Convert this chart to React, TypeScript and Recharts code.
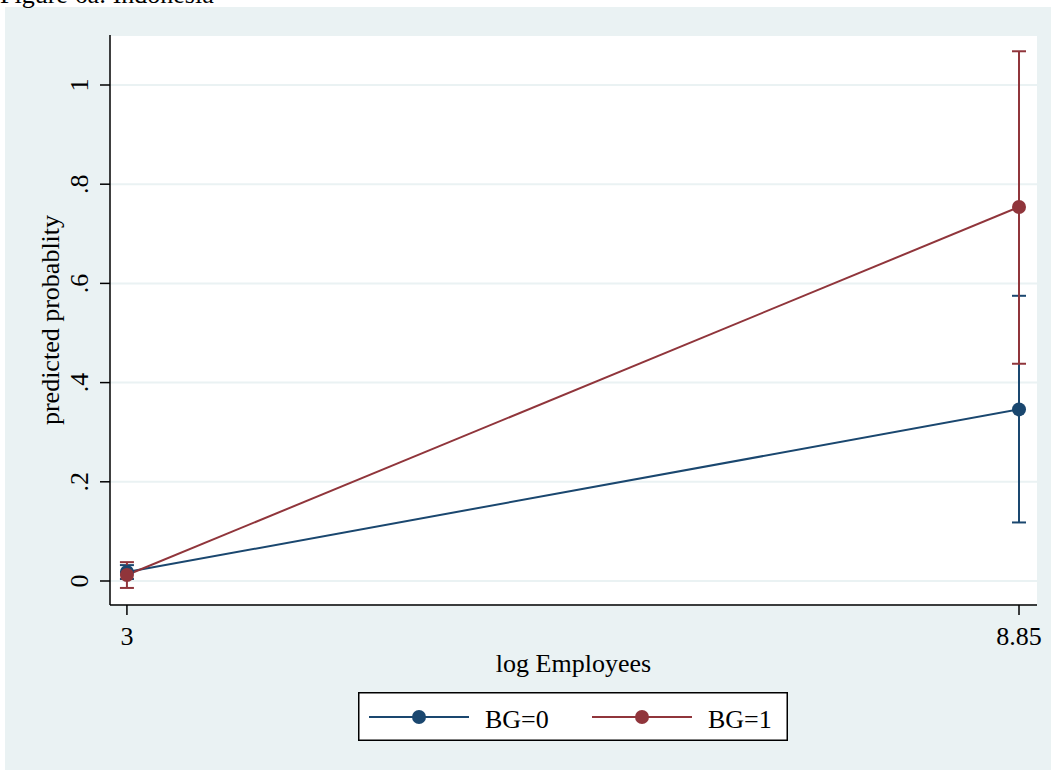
import React from "react";
import { LineChart, Line, XAxis, YAxis, CartesianGrid, ErrorBar, Legend } from "recharts";

// values
const employees = [3, 8.85];
const bg0Prob = [0.018, 0.346];
const bg0Low = [0.004, 0.118];
const bg0High = [0.032, 0.575];
const bg1Prob = [0.012, 0.754];
const bg1Low = [-0.014, 0.438];
const bg1High = [0.038, 1.068];

const yTicks = [0, 0.2, 0.4, 0.6, 0.8, 1];
const yTickLabels = ["0", ".2", ".4", ".6", ".8", "1"];
const xTicks = [3, 8.85];
const xTickLabels = ["3", "8.85"];

const NAVY = "#1a476f";
const MAROON = "#90353b";
const BG = "#eaf2f3";
const FONT = "'Liberation Serif', 'Times New Roman', serif";

const data = employees.map((x, i) => ({
  x,
  p0: bg0Prob[i],
  e0: [bg0Prob[i] - bg0Low[i], bg0High[i] - bg0Prob[i]],
  p1: bg1Prob[i],
  e1: [bg1Prob[i] - bg1Low[i], bg1High[i] - bg1Prob[i]],
}));

const YTick = ({ x, y, payload }: any) => {
  const idx = yTicks.indexOf(payload.value);
  return (
    <text x={x} y={y} transform={`rotate(-90 ${x} ${y})`} textAnchor="middle" fontSize={26} fontFamily={FONT} fill="#000">
      {yTickLabels[idx]}
    </text>
  );
};

const XTick = ({ x, y, payload }: any) => {
  const idx = xTicks.indexOf(payload.value);
  return (
    <text x={x} y={y + 28} textAnchor="middle" fontSize={26} fontFamily={FONT} fill="#000">
      {xTickLabels[idx]}
    </text>
  );
};

const YLabel = ({ viewBox }: any) => {
  const x = viewBox.x + 59;
  const y = viewBox.y + viewBox.height / 2;
  return (
    <text x={x} y={y} transform={`rotate(-90 ${x} ${y})`} textAnchor="middle" fontSize={26} fontFamily={FONT} fill="#000">
      predicted probablity
    </text>
  );
};

const XLabel = ({ viewBox }: any) => (
  <text x={viewBox.x + viewBox.width / 2} y={viewBox.y + 67} textAnchor="middle" fontSize={26} fontFamily={FONT} fill="#000">
    log Employees
  </text>
);

const LegendBox = ({ payload }: any) => {
  const items = payload || [];
  return (
    <svg width={430} height={49} style={{ display: "block" }}>
      <rect x={0.75} y={0.75} width={428.5} height={47.5} fill="#fff" stroke="#000" strokeWidth={1.5} />
      {items.map((it: any, i: number) => {
        const off = i * 223;
        return (
          <g key={it.value}>
            <line x1={11 + off} x2={111 + off} y1={25} y2={25} stroke={it.color} strokeWidth={2} />
            <circle cx={61 + off} cy={25} r={7} fill={it.color} />
            <text x={127 + off} y={36} fontSize={26} fontFamily={FONT} fill="#000">
              {it.value}
            </text>
          </g>
        );
      })}
    </svg>
  );
};

export default function App() {
  return (
    <div style={{ position: "absolute", left: 0, top: 0, width: 1051, height: 770, overflow: "hidden", background: "#fff" }}>
      <div style={{ position: "absolute", left: 5, top: 7, width: 1046, height: 763, background: BG }} />
      <svg width={400} height={10} style={{ position: "absolute", left: 0, top: 0 }}>
        <text x={0} y={3} fontSize={26} fontFamily={FONT} fill="#000">
          Figure 6a: Indonesia
        </text>
      </svg>
      <div style={{ position: "absolute", left: 0, top: 0 }}>
        <LineChart width={1051} height={770} data={data} margin={{ top: 35, right: 14, left: 0, bottom: 105 }}>
          <CartesianGrid vertical={false} fill="#fff" stroke={BG} strokeWidth={2} />
          <XAxis
            dataKey="x"
            type="number"
            domain={[2.889, 8.968]}
            ticks={xTicks}
            allowDataOverflow
            height={60}
            tickSize={10}
            tickMargin={2}
            tick={<XTick />}
            axisLine={{ stroke: "#000", strokeWidth: 1.5 }}
            tickLine={{ stroke: "#000", strokeWidth: 1.5 }}
            label={<XLabel />}
          />
          <YAxis
            type="number"
            domain={[-0.0484, 1.1008]}
            ticks={yTicks}
            allowDataOverflow
            width={110}
            tickSize={10}
            tickMargin={12}
            tick={<YTick />}
            axisLine={{ stroke: "#000", strokeWidth: 1.5 }}
            tickLine={{ stroke: "#000", strokeWidth: 1.5 }}
            label={<YLabel />}
          />
          <Legend
            layout="horizontal"
            verticalAlign="middle"
            wrapperStyle={{ left: 358, top: 692, width: 430, height: 49 }}
            content={<LegendBox />}
          />
          <Line
            name="BG=0"
            dataKey="p0"
            type="linear"
            stroke={NAVY}
            strokeWidth={2}
            dot={{ r: 7, fill: NAVY, stroke: NAVY, strokeWidth: 0 }}
            activeDot={false}
            isAnimationActive={false}
          >
            <ErrorBar dataKey="e0" width={7} stroke={NAVY} strokeWidth={2} direction="y" />
          </Line>
          <Line
            name="BG=1"
            dataKey="p1"
            type="linear"
            stroke={MAROON}
            strokeWidth={2}
            dot={{ r: 7, fill: MAROON, stroke: MAROON, strokeWidth: 0 }}
            activeDot={false}
            isAnimationActive={false}
          >
            <ErrorBar dataKey="e1" width={7} stroke={MAROON} strokeWidth={2} direction="y" />
          </Line>
        </LineChart>
      </div>
    </div>
  );
}
